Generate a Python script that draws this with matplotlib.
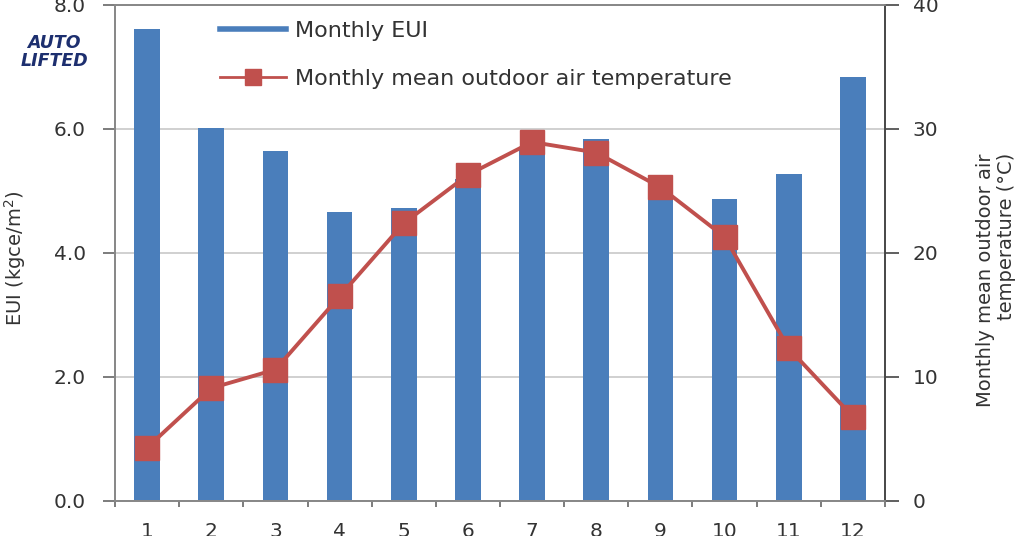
import numpy as np
import matplotlib
matplotlib.use("Agg")
import matplotlib.pyplot as plt
from matplotlib.lines import Line2D

# Data
months = [1, 2, 3, 4, 5, 6, 7, 8, 9, 10, 11, 12]
eui = [7.61, 6.02, 5.65, 4.66, 4.72, 5.20, 5.70, 5.84, 5.22, 4.87, 5.28, 6.84]
temperature = [4.3, 9.1, 10.6, 16.5, 22.4, 26.3, 28.95, 28.1, 25.3, 21.3, 12.3, 6.8]
eui_ticks = [0.0, 2.0, 4.0, 6.0, 8.0]
temp_ticks = [0, 10, 20, 30, 40]

blue = "#4a7ebb"
red = "#c0504d"
txt = "#333333"

plt.rcParams['font.family'] = ['DejaVu Sans']

fig = plt.figure(figsize=(10.24, 5.36), dpi=100)
ax = fig.add_axes([115/1024, 1 - 501/536, 770/1024, 496/536])
ax2 = ax.twinx()

ax.bar(months, eui, width=0.4, color=blue, zorder=2)
ax.set_xlim(0.5, 12.5)
ax.set_ylim(0, 8)
ax.set_yticks(eui_ticks)
ax.set_yticklabels(["{:.1f}".format(v) for v in eui_ticks])
ax.yaxis.grid(True, color="#c8c8c8", linewidth=1.2)
ax.set_axisbelow(True)

ax.set_xticks(months)
ax.set_xticks(np.arange(0.5, 13, 1.0), minor=True)
ax.tick_params(axis="x", which="major", length=0, pad=15, labelsize=14.5, labelcolor=txt)
ax.tick_params(axis="x", which="minor", length=4, width=1.2, direction="out", color="#666666")
ax.tick_params(axis="y", length=9, width=1.2, pad=12, labelsize=14.5, labelcolor=txt, color="#666666")

ax2.plot(months, temperature, color=red, linewidth=2.8, marker="s", markersize=17,
         markerfacecolor=red, markeredgecolor=red, zorder=3)
ax2.set_ylim(0, 40)
ax2.set_yticks(temp_ticks)
ax2.tick_params(axis="y", length=10, width=1.2, pad=10, labelsize=14.5, labelcolor=txt, color="#444444")

for a in (ax, ax2):
    for s in a.spines.values():
        s.set_color("#888888")
        s.set_linewidth(1.3)
ax2.spines["right"].set_color("#444444")

fig.text(15/1024, 1 - 258/536, "EUI (kgce/m$^2$)", rotation=90, ha="center", va="center",
         fontsize=14, color=txt)
fig.text(996/1024, 1 - 280/536, "Monthly mean outdoor air\ntemperature (\u00b0C)",
         rotation=90, ha="center", va="center", fontsize=14, color=txt,
         multialignment="right", linespacing=1.15)

handles = [Line2D([0], [0], color=blue, linewidth=4),
           Line2D([0], [0], color=red, linewidth=2, marker="s", markersize=11,
                  markerfacecolor=red, markeredgecolor=red)]
ax2.legend(handles, ["Monthly EUI", "Monthly mean outdoor air temperature"],
           loc="upper left", bbox_to_anchor=(0.136, 0.968), frameon=False,
           fontsize=16, handlelength=3.0, handletextpad=0.4, labelspacing=1.25,
           borderpad=0, borderaxespad=0, labelcolor=txt)

# watermark logo
fig.text(54/1024, 1 - 52/536, "AUTO\nLIFTED", ha="center", va="center", fontsize=12.5,
         fontweight="bold", fontstyle="italic", color="#1d2f6f", linespacing=0.95)

fig.savefig("out.png", dpi=100)
